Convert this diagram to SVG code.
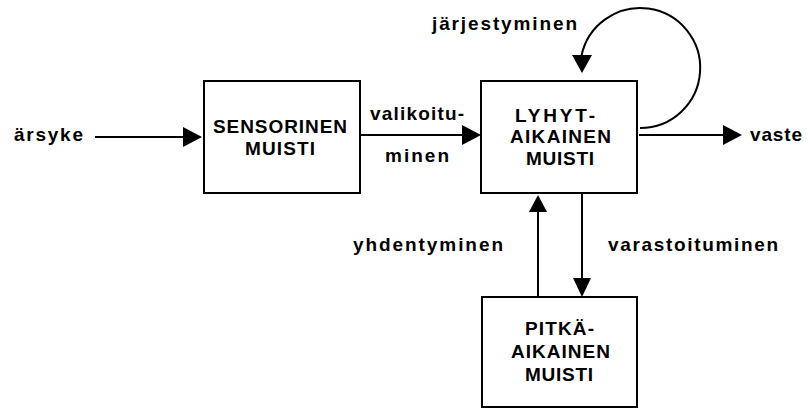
<svg xmlns="http://www.w3.org/2000/svg" width="809" height="408" viewBox="0 0 809 408">
  <style>
    .box { fill: #ffffff; stroke: #000000; stroke-width: 2; }
    .line { fill: none; stroke: #000000; stroke-width: 2; }
    .head { fill: #000000; stroke: none; }
    text { font-family: "Liberation Sans", Arial, sans-serif; font-weight: bold; font-size: 19px; fill: #000000; }
  </style>
  <rect width="809" height="408" fill="#ffffff"/>

  <!-- connectors -->
  <g id="connectors">
    <!-- stimulus into sensory memory -->
    <line class="line" x1="95" y1="137" x2="186" y2="137"/>
    <polygon class="head" points="183,127 202,137 183,147"/>
    <!-- sensory memory to short-term memory -->
    <line class="line" x1="361" y1="135" x2="465" y2="135"/>
    <polygon class="head" points="462,125 481,135 462,145"/>
    <!-- short-term memory to response -->
    <line class="line" x1="639" y1="135" x2="725" y2="135"/>
    <polygon class="head" points="723,125 742,135 723,145"/>
    <!-- self loop on short-term memory -->
    <path class="line" d="M640 128 A60 60 0 1 0 581.4 56"/>
    <polygon class="head" points="572,55 592,55 582,73"/>
    <!-- long-term back up to short-term -->
    <line class="line" x1="538" y1="296" x2="538" y2="210"/>
    <polygon class="head" points="529,212 538,195 547,212"/>
    <!-- short-term down to long-term -->
    <line class="line" x1="582" y1="194" x2="582" y2="281"/>
    <polygon class="head" points="573,278 591,278 582,297"/>
  </g>

  <!-- edge labels -->
  <g id="labels">
    <text x="14" y="141" textLength="69">ärsyke</text>
    <text x="370" y="120" textLength="94">valikoitu-</text>
    <text x="385" y="162" textLength="64">minen</text>
    <text x="432" y="30" textLength="145">järjestyminen</text>
    <text x="750" y="141" textLength="52">vaste</text>
    <text x="353" y="251" textLength="150">yhdentyminen</text>
    <text x="608" y="251" textLength="170">varastoituminen</text>
  </g>

  <g id="sensorinen">
    <rect class="box" x="204" y="81" width="156" height="112"/>
    <text x="213" y="133" textLength="134">SENSORINEN</text>
    <text x="245" y="155" textLength="70">MUISTI</text>
  </g>

  <g id="lyhytaikainen">
    <rect class="box" x="481" y="81" width="156" height="112"/>
    <text x="515" y="122" textLength="80">LYHYT-</text>
    <text x="510" y="143" textLength="101">AIKAINEN</text>
    <text x="526" y="165" textLength="68">MUISTI</text>
  </g>

  <g id="pitkaaikainen">
    <rect class="box" x="482" y="297" width="155" height="110"/>
    <text x="525" y="335" textLength="69">PITKÄ-</text>
    <text x="511" y="358" textLength="99">AIKAINEN</text>
    <text x="525" y="381" textLength="68">MUISTI</text>
  </g>
</svg>
